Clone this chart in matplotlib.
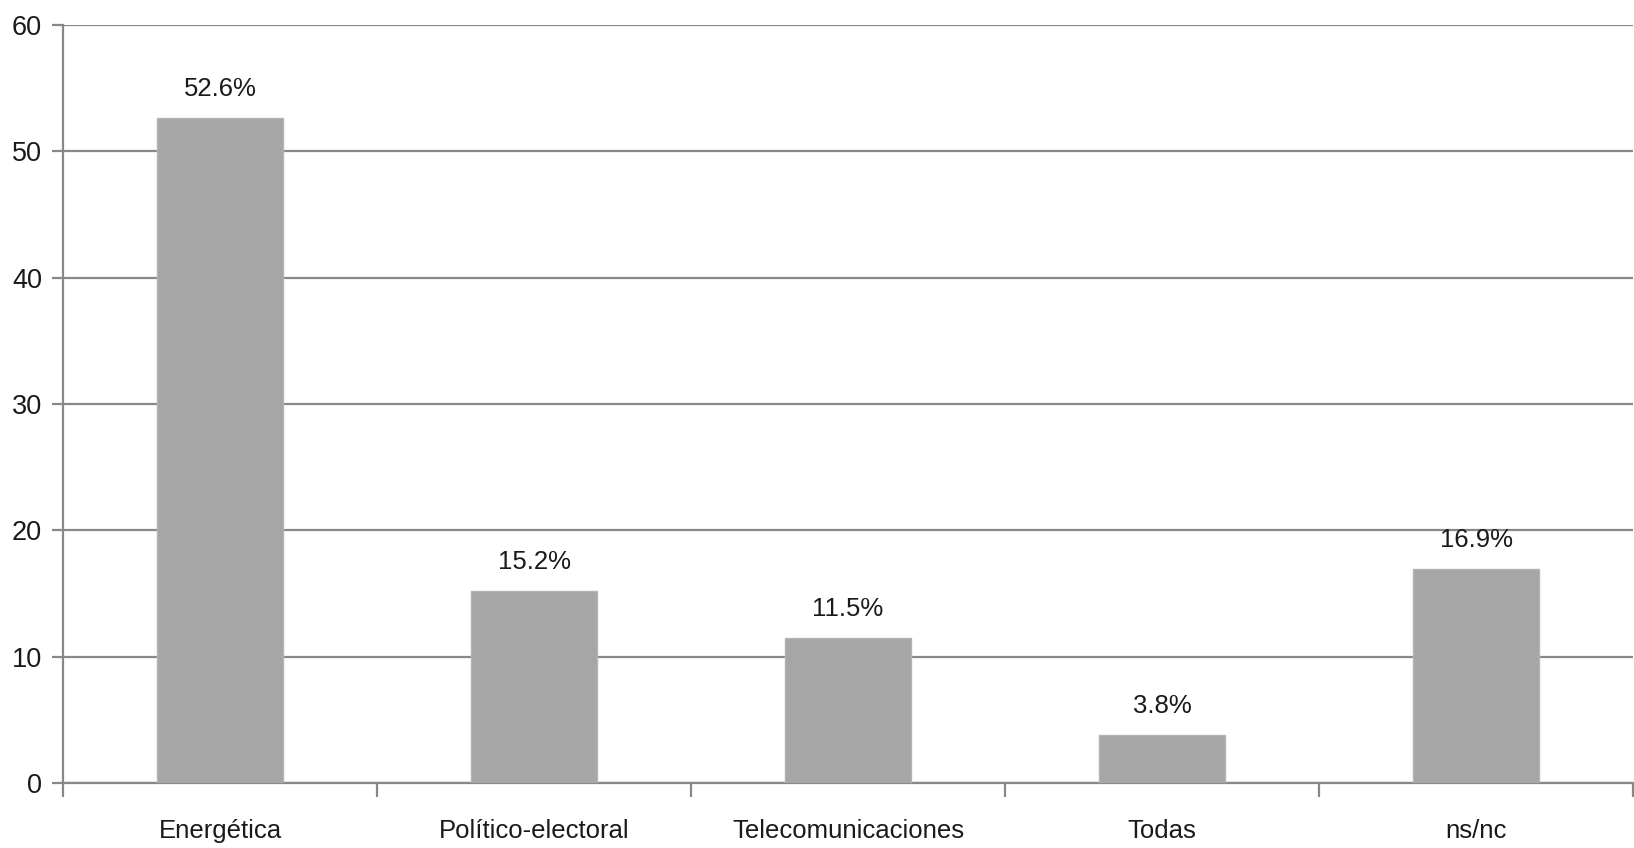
import numpy as np
import matplotlib.pyplot as plt
from matplotlib.ticker import FixedLocator

categories = ["Energética", "Político-electoral", "Telecomunicaciones", "Todas", "ns/nc"]
values = [52.6, 15.2, 11.5, 3.8, 16.9]
labels = ["52.6%", "15.2%", "11.5%", "3.8%", "16.9%"]
yticks = [0, 10, 20, 30, 40, 50, 60]

plt.rcParams['font.family'] = ['Liberation Sans', 'DejaVu Sans']

fig = plt.figure(figsize=(16.34, 8.48), dpi=100)
ax = fig.add_axes([63 / 1634, 1 - 783 / 848, 1570 / 1634, 758 / 848])

x = np.arange(len(categories))
bars = ax.bar(x, values, width=0.4, color="#a6a6a6", edgecolor="#b4b4b4", linewidth=1, zorder=3)

# value labels above each bar
for xi, v, lab in zip(x, values, labels):
    ax.annotate(lab, (xi, v), xytext=(0, 21), textcoords="offset points",
                ha="center", va="center", fontsize=18.5, color="#1a1a1a")

ax.set_xlim(-0.5, len(categories) - 0.5)
ax.set_ylim(0, 60)
ax.set_yticks(yticks)
ax.set_yticklabels([str(t) for t in yticks], fontsize=19.5, color="#1a1a1a")
ax.yaxis.grid(True, color="#888888", linewidth=1.6, zorder=0)
ax.set_axisbelow(True)

ax.set_xticks(x)
ax.set_xticklabels(categories, fontsize=18.5, color="#1a1a1a")
ax.tick_params(axis="x", which="major", length=0, pad=26)
ax.xaxis.set_minor_locator(FixedLocator(np.arange(-0.5, len(categories), 1.0)))
ax.tick_params(axis="x", which="minor", length=10, width=1.6, color="#888888", direction="out")
ax.tick_params(axis="y", length=8, width=1.6, color="#888888", pad=7)

for side in ["top", "right"]:
    ax.spines[side].set_visible(False)
for side in ["left", "bottom"]:
    ax.spines[side].set_color("#888888")
    ax.spines[side].set_linewidth(1.6)

fig.savefig("out.png", dpi=100)
